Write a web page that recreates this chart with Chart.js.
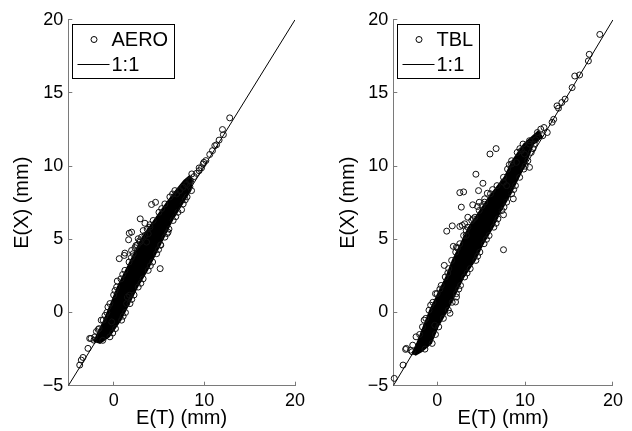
<!DOCTYPE html>
<html>
<head>
<meta charset="utf-8">
<script src="https://cdn.jsdelivr.net/npm/chart.js@4.4.1/dist/chart.umd.min.js"></script>
<style>
  html, body { margin: 0; padding: 0; background: #fff; }
  .panel { position: absolute; top: 0; width: 316px; height: 431px; }
  #leftPanel { left: 0; }
  #rightPanel { left: 316px; }
</style>
</head>
<body>
<div class="panel" id="leftPanel"><canvas id="aeroChart" width="316" height="431"></canvas></div>
<div class="panel" id="rightPanel"><canvas id="tblChart" width="316" height="431"></canvas></div>
<script>
// axis ticks and the 1:1 reference line
const xTicks = [0, 10, 20];
const yTicks = [-5, 0, 5, 10, 15, 20];
const lineX = [-5, 20];
const lineY = [-5, 20];

// AERO: dense core of the cloud (outline), then the individual circles
const aeroBand = [
  [-2.2, -1.95], [-1.95, -1.66], [-1.05, -0.52], [-0.3, 0.61], [0.43, 1.74], [1.34, 2.88],
  [2.26, 4.02], [3.18, 5.15], [4.46, 6.29], [5.75, 7.42], [6.85, 8.33], [7.77, 9.01], [8.4, 9.35],
  [8.67, 9.01], [8.49, 8.33], [7.57, 7.42], [6.46, 6.29], [5.55, 5.15], [4.64, 4.02], [3.71, 2.88],
  [2.61, 1.74], [1.7, 0.61], [0.78, -0.52], [-0.5, -1.66], [-1.5, -2.1], [-2.2, -1.95]
];
const aeroPoints = [
  [12.8, 13.3], [12.0, 12.5], [12.1, 12.15], [11.63, 11.78], [11.35, 11.46], [11.16, 11.4],
  [10.9, 11.06], [10.6, 10.8], [10.17, 10.38], [9.95, 10.26], [9.87, 10.15], [9.69, 9.88],
  [9.43, 9.88], [9.43, 9.69], [9.14, 9.51], [8.88, 9.29], [8.62, 9.47], [8.5, 9.0], [8.33, 9.01],
  [8.04, 8.74], [7.67, 8.56], [7.3, 8.33], [6.94, 8.1],
  [4.18, 7.38], [4.62, 7.53], [2.93, 6.4], [3.45, 6.1], [1.98, 5.49], [1.72, 5.42], [1.65, 4.97],
  [3.26, 5.6], [3.45, 5.27], [3.81, 5.38], [2.71, 5.04], [3.63, 4.81], [2.35, 4.43], [1.98, 4.24],
  [1.24, 4.06], [1.17, 3.9], [0.62, 3.68], [4.0, 5.83], [2.46, 4.58], [2.9, 4.81], [0.4, 2.15],
  [5.13, 3.0], [5.17, 4.63], [7.49, 7.02], [1.43, 0.61], [1.5, 1.06], [1.76, 1.18], [-0.22, -0.64],
  [6.0, 5.49],
  [-3.74, -3.59], [-3.57, -3.25], [-3.38, -3.07], [-2.83, -2.45], [-2.64, -1.77], [-2.5, -1.77],
  [-2.17, -1.89], [-1.7, -1.16], [-1.37, -0.52], [-0.63, 0.38],
  [-2.06, -1.66], [-1.6, -1.1], [-1.15, -0.52], [-0.75, 0.0], [-0.41, 0.61], [0.0, 1.2], [0.33, 1.74],
  [0.8, 2.3], [1.24, 2.88], [1.7, 3.45], [2.16, 4.02], [2.6, 4.6], [3.08, 5.15], [3.7, 5.7],
  [4.36, 6.29], [5.0, 6.85], [5.65, 7.42], [6.2, 7.9], [6.75, 8.33],
  [-0.41, -1.66], [0.2, -1.1], [0.88, -0.52], [1.3, 0.0], [1.8, 0.61], [2.25, 1.2], [2.71, 1.74],
  [3.25, 2.3], [3.81, 2.88], [4.3, 3.45], [4.74, 4.02], [5.2, 4.6], [5.65, 5.15], [6.1, 5.7],
  [6.56, 6.29], [7.1, 6.85], [7.67, 7.42], [8.1, 7.9], [8.59, 8.33],
  [-1.9, -1.3], [-0.95, -0.2], [0.15, 1.5], [1.0, 2.6], [1.95, 3.75], [2.85, 4.9], [4.0, 6.0],
  [5.3, 7.1], [6.5, 8.1], [-0.1, -1.4], [1.05, -0.25], [2.0, 0.9], [3.0, 2.0], [4.05, 3.2],
  [4.95, 4.3], [5.9, 5.4], [6.85, 6.55], [7.9, 7.7], [8.4, 8.6], [-1.2, -1.9]
];

// TBL
const tblBand = [
  [-2.85, -2.75], [-2.6, -2.5], [-2.31, -2.11], [-1.58, -0.98], [-0.84, 0.16], [0.08, 1.29],
  [1.01, 2.43], [1.74, 3.56], [2.67, 4.7], [3.58, 5.83], [4.88, 6.97], [6.16, 8.11], [7.64, 9.24],
  [8.56, 10.37], [9.86, 11.51], [11.5, 12.4],
  [11.95, 12.0], [10.94, 11.51], [10.21, 10.37], [9.28, 9.24], [8.36, 8.11], [7.26, 6.97],
  [6.34, 5.83], [5.23, 4.7], [4.3, 3.56], [3.02, 2.43], [2.09, 1.29], [1.17, 0.16], [0.07, -0.98],
  [-0.68, -2.11], [-1.75, -2.65], [-2.45, -2.9], [-2.85, -2.75]
];
const tblPoints = [
  [18.5, 19.0], [17.3, 17.64], [17.2, 17.19], [15.65, 16.16], [16.2, 16.23], [15.35, 15.37],
  [14.55, 14.58], [14.18, 14.35], [13.63, 14.12], [13.8, 13.96], [13.25, 13.2], [13.07, 13.0],
  [12.15, 12.64], [11.78, 12.53], [12.52, 12.3], [11.4, 12.3], [10.5, 11.74], [10.5, 11.51],
  [9.57, 11.06], [9.93, 10.83], [12.0, 12.08], [11.2, 11.8],
  [6.7, 11.2], [6.0, 10.83], [4.4, 9.45], [5.2, 8.83], [4.7, 8.33], [2.57, 8.19], [3.0, 8.24],
  [2.74, 7.2], [4.04, 7.36], [4.78, 7.53], [4.59, 7.24], [5.4, 7.77], [5.7, 8.15], [1.08, 5.56],
  [1.71, 5.92], [2.57, 5.88], [3.12, 6.06], [3.93, 6.29], [4.29, 6.51], [3.48, 6.51], [0.8, 3.22],
  [1.83, 4.52], [2.19, 4.47], [3.3, 5.27], [2.85, 5.95], [7.54, 8.9], [8.46, 10.15], [9.01, 10.26],
  [7.54, 4.29], [8.65, 7.77], [7.54, 6.68], [10.5, 9.92], [2.08, 0.72], [2.19, 1.06], [-0.28, -0.87],
  [7.9, 8.67],
  [-4.89, -4.5], [-3.89, -3.59], [-3.6, -2.52], [-3.52, -2.45], [-2.85, -2.68], [-3.04, -2.57],
  [-2.79, -2.23], [-2.41, -1.66], [-1.49, -0.52], [-0.75, 0.5], [-0.2, 1.29],
  [-2.0, -1.5], [-1.68, -0.98], [-1.3, -0.4], [-0.94, 0.16], [-0.5, 0.7], [-0.02, 1.29], [0.45, 1.85],
  [0.91, 2.43], [1.3, 3.0], [1.64, 3.56], [2.1, 4.13], [2.57, 4.7], [3.0, 5.26], [3.48, 5.83],
  [4.1, 6.4], [4.78, 6.97], [5.4, 7.54], [6.06, 8.11], [6.8, 8.67], [7.54, 9.24], [8.0, 9.8],
  [8.46, 10.37], [9.1, 10.94], [9.76, 11.51],
  [-0.58, -2.11], [-0.2, -1.5], [0.17, -0.98], [0.7, -0.4], [1.27, 0.16], [1.7, 0.7], [2.19, 1.29],
  [2.65, 1.85], [3.12, 2.43], [3.75, 3.0], [4.4, 3.56], [4.85, 4.13], [5.33, 4.7], [5.9, 5.26],
  [6.44, 5.83], [6.9, 6.4], [7.36, 6.97], [7.9, 7.54], [8.46, 8.11], [8.9, 8.67], [9.38, 9.24],
  [9.85, 9.8], [10.31, 10.37], [10.7, 10.94], [11.04, 11.51],
  [0.3, 1.6], [1.2, 2.7], [2.3, 4.4], [3.3, 5.6], [5.1, 7.3], [6.3, 8.4], [8.2, 10.1], [9.4, 11.2],
  [1.45, -0.05], [2.45, 1.6], [3.4, 2.7], [4.6, 3.85], [5.6, 5.0], [6.7, 6.1], [7.6, 7.2],
  [8.7, 8.4], [10.0, 10.0], [10.9, 11.2], [-1.4, -2.5]
];

const fontFamily = '"Liberation Sans", Arial, Helvetica, sans-serif';
const axisGray = '#7a7a7a';
const coreColor = '#000000';

const toXY = pts => pts.map(([x, y]) => ({ x, y }));
const fmt = v => (v < 0 ? '\u2212' + Math.abs(v) : String(v));

// MATLAB style legend box sitting inside the axes
const insetLegend = {
  id: 'insetLegend',
  afterDatasetsDraw(chart, args, opts) {
    const { ctx, chartArea } = chart;
    ctx.save();
    ctx.font = '20px ' + fontFamily;
    const textW = Math.max(ctx.measureText(opts.label).width, ctx.measureText('1:1').width);
    const x0 = Math.round(chartArea.left + 4) + 0.5;
    const y0 = Math.round(chartArea.top + 4) + 0.5;
    const w = Math.round(39 + textW + 6), h = 54;
    ctx.fillStyle = '#fff';
    ctx.fillRect(x0, y0, w, h);
    ctx.strokeStyle = '#000';
    ctx.lineWidth = 1;
    ctx.strokeRect(x0, y0, w, h);
    ctx.beginPath();
    ctx.arc(x0 + 21.5, y0 + 15, 3, 0, Math.PI * 2);
    ctx.stroke();
    ctx.beginPath();
    ctx.moveTo(x0 + 5, y0 + 40);
    ctx.lineTo(x0 + 37, y0 + 40);
    ctx.stroke();
    ctx.fillStyle = '#000';
    ctx.textBaseline = 'middle';
    ctx.fillText(opts.label, x0 + 39, y0 + 16);
    ctx.fillText('1:1', x0 + 39, y0 + 41);
    ctx.restore();
  }
};

function makePanel(canvasId, label, points, band, yAxisWidth, padRight, titleGap) {
  const ctx = document.getElementById(canvasId).getContext('2d');
  return new Chart(ctx, {
    type: 'scatter',
    data: {
      datasets: [
        {
          type: 'line',
          label: '1:1',
          data: lineX.map((x, i) => ({ x, y: lineY[i] })),
          borderColor: '#000',
          borderWidth: 1,
          pointRadius: 0,
          fill: false
        },
        {
          label: label,
          data: toXY(points),
          pointRadius: 3,
          pointBorderWidth: 1,
          pointBorderColor: '#111',
          pointBackgroundColor: 'rgba(0,0,0,0)',
          clip: false
        },
        {
          type: 'line',
          label: label + ' core',
          data: toXY(band),
          borderColor: coreColor,
          backgroundColor: coreColor,
          borderWidth: 1.5,
          pointRadius: 0,
          tension: 0,
          fill: 'shape'
        }
      ]
    },
    options: {
      responsive: false,
      animation: false,
      events: [],
      layout: { padding: { top: 18.3, right: padRight, bottom: 0, left: 0 } },
      scales: {
        x: {
          type: 'linear',
          min: -5,
          max: 20,
          afterBuildTicks: s => { s.ticks = xTicks.map(v => ({ value: v })); },
          afterFit: s => { s.height = 45.3; },
          grid: { drawOnChartArea: false, drawTicks: true, tickLength: -4, color: axisGray },
          border: { display: true, color: axisGray, width: 1 },
          ticks: { padding: 9, color: '#000', font: { family: fontFamily, size: 18 }, callback: fmt, maxRotation: 0, autoSkip: false },
          title: { display: true, text: 'E(T) (mm)', color: '#000', font: { family: fontFamily, size: 20 }, padding: { top: 0, bottom: 1 } }
        },
        y: {
          type: 'linear',
          min: -5,
          max: 20,
          afterBuildTicks: s => { s.ticks = yTicks.map(v => ({ value: v })); },
          afterFit: s => { s.width = yAxisWidth; },
          grid: { drawOnChartArea: false, drawTicks: true, tickLength: -4, color: axisGray },
          border: { display: true, color: axisGray, width: 1 },
          ticks: { padding: 9, color: '#000', font: { family: fontFamily, size: 18 }, callback: fmt, autoSkip: false },
          title: { display: true, text: 'E(X) (mm)', color: '#000', font: { family: fontFamily, size: 20 }, padding: { top: titleGap, bottom: 0 } }
        }
      },
      plugins: {
        legend: { display: false },
        tooltip: { enabled: false },
        insetLegend: { label: label }
      }
    },
    plugins: [insetLegend]
  });
}

makePanel('aeroChart', 'AERO', aeroPoints, aeroBand, 68.3, 21, 10);
makePanel('tblChart', 'TBL', tblPoints, tblBand, 77.3, 12.7, 20.5);
</script>
</body>
</html>
